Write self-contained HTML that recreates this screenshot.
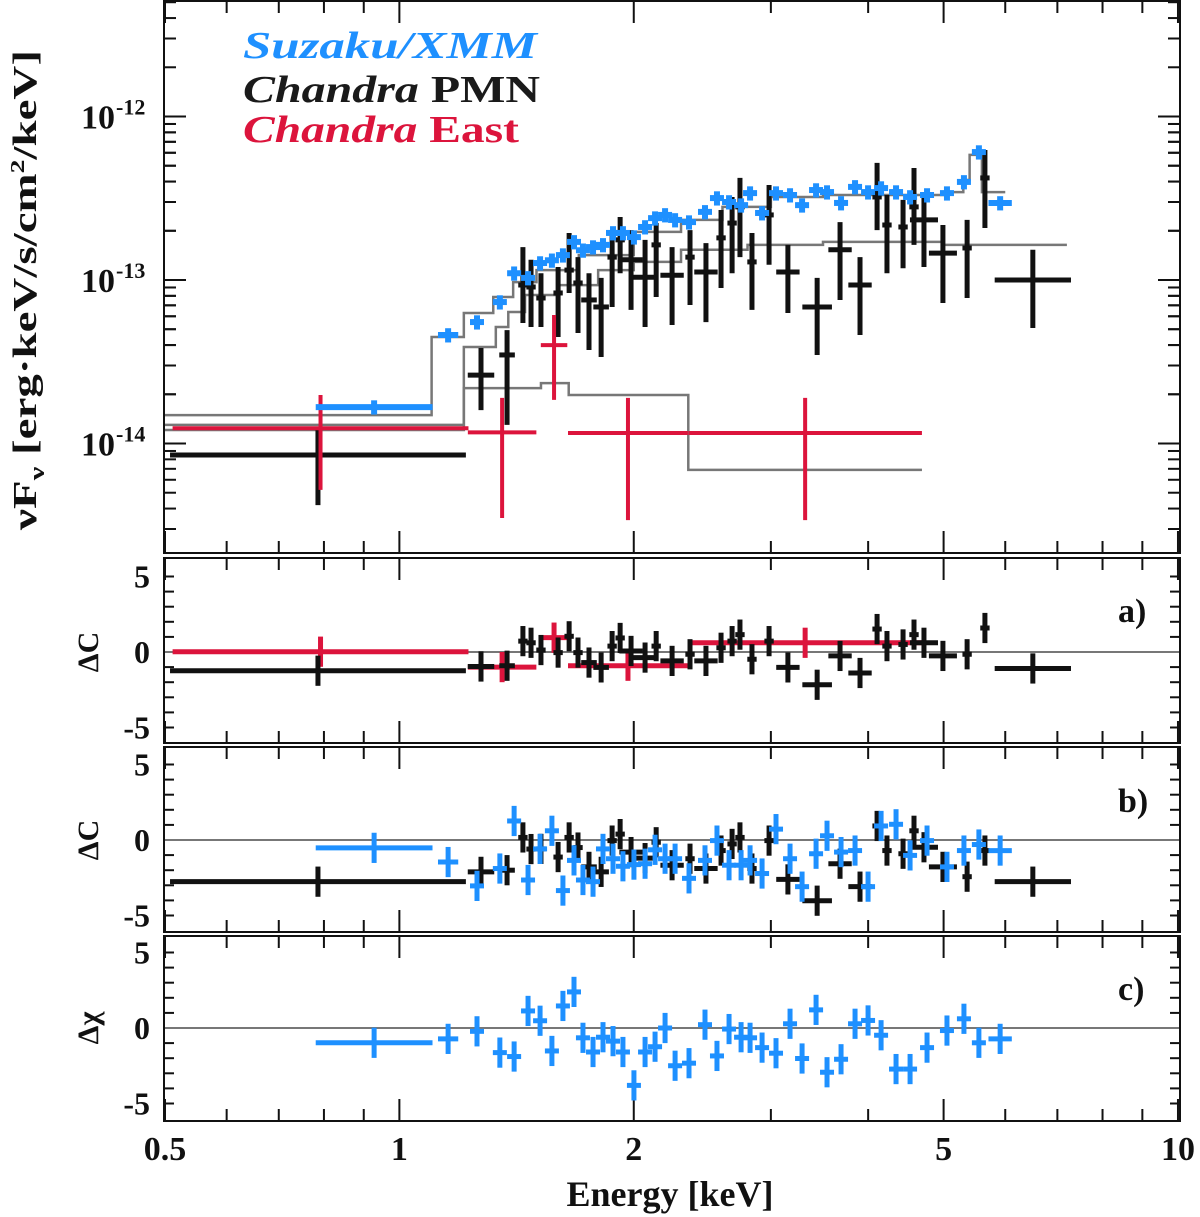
<!DOCTYPE html>
<html><head><meta charset="utf-8"><style>
html,body{margin:0;padding:0;background:#fff;}
svg{display:block;font-family:"Liberation Serif",serif;}
</style></head><body>
<svg id="chart" width="1200" height="1217" viewBox="0 0 1200 1217" xmlns="http://www.w3.org/2000/svg">
<rect x="0" y="0" width="1200" height="1217" fill="#fff"/>
<g id="plots"></g>
<g id="frames" fill="none" stroke="#111" stroke-width="2">
<rect x="164" y="1" width="1016" height="552"/>
<rect x="164" y="558" width="1016" height="185"/>
<rect x="164" y="747" width="1016" height="185"/>
<rect x="164" y="936" width="1016" height="185"/>
</g>
<g font-weight="bold" fill="#111">
<text x="243" y="58" font-style="italic" font-size="38" fill="#1e90ff" textLength="294" lengthAdjust="spacingAndGlyphs">Suzaku/XMM</text>
<text x="243" y="102" font-size="38" fill="#1a1a1a" textLength="297" lengthAdjust="spacingAndGlyphs"><tspan font-style="italic">Chandra</tspan> PMN</text>
<text x="243" y="142" font-size="38" fill="#dc143c" textLength="276" lengthAdjust="spacingAndGlyphs"><tspan font-style="italic">Chandra</tspan> East</text>
<text transform="translate(36,290) rotate(-90)" text-anchor="middle" font-size="34" textLength="480" lengthAdjust="spacingAndGlyphs">νF<tspan font-size="22" dy="8">ν</tspan><tspan dy="-8"> [erg·keV/s/cm</tspan><tspan font-size="20" dy="-12">2</tspan><tspan dy="12">/keV]</tspan></text>
<text transform="translate(98,652) rotate(-90)" text-anchor="middle" font-size="30">ΔC</text>
<text transform="translate(98,840) rotate(-90)" text-anchor="middle" font-size="30">ΔC</text>
<text transform="translate(98,1028) rotate(-90)" text-anchor="middle" font-size="30">Δχ</text>
<text x="1118" y="622" font-size="34">a)</text>
<text x="1118" y="812" font-size="34">b)</text>
<text x="1118" y="1000" font-size="34">c)</text>
<text x="670" y="1206" text-anchor="middle" font-size="36">Energy [keV]</text>
</g>
</svg>
<script>
// ---------- data ----------
const xTickVals = [0.5, 1, 2, 5, 10];
const xTickLabels = ["0.5", "1", "2", "5", "10"];
const xMinor = [0.6, 0.7, 0.8, 0.9, 3, 4, 6, 7, 8, 9];
const yDecades = [-12, -13, -14];
const resTicks = [5, 0, -5];

// Suzaku/XMM (flux in 1e-13 erg keV/s/cm2/keV)
const blueE = [0.928,1.155,1.258,1.346,1.404,1.463,1.516,1.570,1.622,1.676,1.721,1.773,1.826,1.881,1.937,2.001,2.068,2.130,2.194,2.260,2.355,2.469,2.558,2.651,2.747,2.821,2.923,3.046,3.175,3.290,3.429,3.542,3.692,3.848,3.999,4.156,4.344,4.528,4.761,5.05,5.31,5.55,5.91];
const blueF = [0.167,0.461,0.553,0.733,1.10,1.03,1.27,1.32,1.42,1.71,1.52,1.59,1.64,1.94,1.94,1.83,2.11,2.39,2.50,2.33,2.26,2.61,3.17,3.00,2.87,3.40,2.57,3.40,3.31,2.87,3.55,3.45,2.96,3.71,3.45,3.65,3.45,3.22,3.31,3.40,3.98,6.06,2.96];
const blueResB = [-0.52,-1.46,-3.04,-1.89,1.26,-2.65,-0.59,0.61,-3.35,-1.35,-2.65,-2.76,-0.59,-1.24,-1.74,-1.63,-1.57,-0.65,-1.24,-1.24,-2.54,-1.35,-0.04,-1.67,-1.67,-1.35,-2.22,0.72,-1.24,-3.09,-0.91,0.28,-0.80,-0.70,-3.09,0.93,1.04,-1.02,-0.04,-1.78,-0.70,-0.30,-0.70];
const blueResC = [-0.98,-0.72,-0.22,-1.63,-1.89,1.13,0.48,-1.52,1.46,2.39,-0.65,-1.59,-0.61,-0.87,-1.59,-3.80,-1.59,-1.24,0,-2.50,-2.33,0.22,-1.85,-0.07,-0.61,-0.65,-1.30,-1.67,0.28,-2.02,1.20,-2.93,-2.07,0.28,0.5,-0.48,-2.72,-2.72,-1.30,-0.17,0.61,-0.98,-0.72];
const blueXerr = [0.075,0.013,0.009,0.009,0.009,0.009,0.009,0.009,0.009,0.009,0.009,0.009,0.009,0.009,0.009,0.009,0.009,0.009,0.009,0.009,0.009,0.009,0.009,0.009,0.009,0.009,0.009,0.009,0.009,0.009,0.009,0.009,0.009,0.009,0.009,0.009,0.009,0.009,0.009,0.009,0.009,0.009,0.015];

// Chandra PMN
const blackE = [0.786,1.273,1.375,1.441,1.476,1.520,1.599,1.652,1.696,1.752,1.816,1.876,1.921,1.984,2.068,2.137,2.240,2.362,2.476,2.589,2.675,2.738,2.837,2.984,3.155,3.440,3.681,3.905,4.107,4.229,4.435,4.581,4.718,4.99,5.36,5.65,6.51];
const blackF = [0.085,0.262,0.348,0.932,0.906,0.776,0.833,1.15,0.959,0.755,0.684,1.38,1.76,1.33,1.04,1.64,1.07,1.38,1.12,1.81,2.23,2.80,1.29,2.50,1.12,0.684,1.53,0.932,3.22,2.17,2.11,2.80,2.33,1.46,1.57,4.21,1.0];
const blackHi = [0.121,0.384,0.494,1.59,1.33,1.10,1.20,1.94,1.38,1.10,1.03,2.02,2.43,2.02,1.76,2.23,1.59,2.02,1.68,2.68,3.22,4.21,1.94,3.81,1.64,1.03,2.26,1.38,5.20,3.31,3.09,4.84,3.45,2.17,2.33,6.24,1.53];
const blackLo = [0.042,0.160,0.130,0.546,0.516,0.516,0.448,0.833,0.474,0.373,0.338,0.684,1.10,0.656,0.516,0.787,0.531,0.703,0.553,0.894,1.10,1.38,0.656,1.24,0.628,0.348,0.755,0.461,2.02,1.10,1.18,1.64,1.20,0.723,0.776,2.08,0.509];
const blackXerr = [0.19,0.017,0.010,0.006,0.006,0.006,0.006,0.006,0.006,0.010,0.010,0.006,0.006,0.015,0.015,0.006,0.015,0.006,0.015,0.006,0.006,0.006,0.006,0.006,0.015,0.019,0.015,0.015,0.006,0.006,0.006,0.006,0.018,0.018,0.006,0.006,0.049];
const blackResA = [-1.24,-0.96,-0.91,0.72,0.61,0.13,-0.04,1.04,-0.04,-0.70,-1.02,0.39,0.93,0.07,-0.37,0.39,-0.59,-0.15,-0.59,0.28,0.72,1.15,-0.48,0.72,-1.02,-2.17,-0.26,-1.39,1.52,0.39,0.5,1.15,0.61,-0.26,-0.15,1.59,-1.09];
const blackResB = [-2.76,-2.11,-2.0,0.17,-0.6,-0.59,-1.13,0.17,-0.5,-1.78,-2.11,-0.04,0.39,-0.8,-1.2,-0.15,-1.67,-1.24,-1.89,-0.70,-0.26,0.17,-1.89,-0.04,-2.61,-4.02,-1.57,-3.09,0.93,-0.70,-0.91,0.61,-0.48,-1.78,-2.43,-0.70,-2.76];

// Chandra East
const redE = [0.792,1.355,1.580,1.966,3.32];
const redF = [0.124,0.117,0.400,0.116,0.116];
const redHi = [0.198,0.190,0.611,0.190,0.190];
const redLo = [0.052,0.035,0.185,0.034,0.034];
const redXerr = [0.19,0.044,0.017,0.077,0.15];
const redResA = [0.02,-1.0,0.95,-0.91,0.61];

// model step curves
const modelSuzEdges = [0.5,1.1,1.21,1.32,1.4,1.5,1.7,2.0,2.3,2.6,3.0,3.5,4.0,4.5,5.0,5.3,5.4,5.6,6.0];
const modelSuzVals = [0.149,0.448,0.628,0.787,0.97,1.15,1.42,1.97,2.33,2.80,3.22,3.31,3.31,3.31,3.45,4.09,5.82,3.45];
const modelPmnEdges = [0.5,1.21,1.33,1.38,1.45,1.6,1.8,2.0,2.3,2.8,3.5,5.0,7.2];
const modelPmnVals = [0.130,0.389,0.516,0.637,0.81,0.93,1.15,1.29,1.53,1.64,1.71,1.64];
const modelEastEdges = [0.5,1.21,1.52,1.65,2.35,4.69];
const modelEastVals = [0.121,0.218,0.234,0.198,0.069];

const blueRelErr = 0.10;
const resErr = 1.0;

// ---------- axes ----------
const NS = "http://www.w3.org/2000/svg";
const X0 = 165, XDEC = 778.6;
const X = e => X0 + XDEC * Math.log10(e / 0.5);
const YT = f => 280 - 163.5 * Math.log10(f);
const panels = {a: {zero: 652}, b: {zero: 840}, c: {zero: 1028}};
const YR = (p, v) => panels[p].zero - 15.1 * v;
const layer = document.getElementById('plots');
const BLUE = "#1e90ff", BLACK = "#111", RED = "#dc143c", GRAY = "#777";

function mk(tag, attrs) {
  const e = document.createElementNS(NS, tag);
  for (const k in attrs) e.setAttribute(k, attrs[k]);
  layer.appendChild(e);
  return e;
}
function line(x1, y1, x2, y2, col, w) {
  return mk('line', {x1: x1, y1: y1, x2: x2, y2: y2, stroke: col, 'stroke-width': w});
}
function text(x, y, s, size, anchor) {
  const t = mk('text', {x: x, y: y, 'font-size': size, 'font-weight': 'bold', fill: '#111', 'text-anchor': anchor});
  t.textContent = s;
  return t;
}

const defs = mk('defs', {});
const cp = document.createElementNS(NS, 'clipPath');
cp.setAttribute('id', 'clipTop');
const cr = document.createElementNS(NS, 'rect');
cr.setAttribute('x', 165); cr.setAttribute('y', 2); cr.setAttribute('width', 1014); cr.setAttribute('height', 550);
cp.appendChild(cr); defs.appendChild(cp);

const frameTB = [[1, 553], [558, 743], [747, 932], [936, 1121]];
frameTB.forEach(([t, b]) => {
  xTickVals.forEach(v => {
    const a = line(X(v), t, X(v), t + 22, BLACK, 2);
    
    
    const c = line(X(v), b, X(v), b - 22, BLACK, 2);
    
    
  });
  xMinor.forEach(v => {
    const a = line(X(v), t, X(v), t + 12, BLACK, 2);
    
    
    const c = line(X(v), b, X(v), b - 12, BLACK, 2);
    
    
  });
});
xTickVals.forEach((v, i) => {
  const t = text(X(v), 1160, xTickLabels[i], 34, 'middle');
  
  
});

yDecades.forEach(d => {
  for (let k = 0; k < 2; k++) {
    for (let m = 1; m <= 9; m++) {
      const f = m * Math.pow(10, d + 13 - k);
      const y = YT(f);
      if (y < 2 || y > 552) continue;
      const len = m === 1 ? 22 : 12;
      const a = line(164, y, 164 + len, y, BLACK, 2);
      
      
      const b = line(1180, y, 1180 - len, y, BLACK, 2);
      
      
    }
  }
  const y = YT(Math.pow(10, d + 13));
  const t = mk('text', {x: 115, y: y + 12, 'font-size': 34, 'font-weight': 'bold', fill: '#111', 'text-anchor': 'end'});
  t.textContent = '10';
  
  
  const s = mk('text', {x: 116, y: y - 2, 'font-size': 22, 'font-weight': 'bold', fill: '#111'});
  s.textContent = '-' + (-d);
  
  
});

['a', 'b', 'c'].forEach(p => {
  for (let v = -5; v <= 5; v++) {
    const y = YR(p, v);
    const a = line(164, y, 174, y, BLACK, 2);
    
    
    const b = line(1180, y, 1170, y, BLACK, 2);
    
    
  }
  resTicks.forEach(v => {
    const t = text(150, YR(p, v) + 11, String(v), 32, 'end');
    
    
  });
  const z = line(165, YR(p, 0), 1179, YR(p, 0), GRAY, 2);
  
  
});

function stepPath(edges, vals) {
  let d = '';
  for (let i = 0; i < vals.length; i++) {
    const y = YT(vals[i]);
    d += (i === 0 ? 'M' : 'L') + X(edges[i]) + ' ' + y + ' L' + X(edges[i + 1]) + ' ' + y + ' ';
  }
  return d;
}
const mA = mk('path', {d: stepPath(modelSuzEdges, modelSuzVals), fill: 'none', stroke: GRAY, 'stroke-width': 2.5, 'clip-path': 'url(#clipTop)'});


const mB = mk('path', {d: stepPath(modelPmnEdges, modelPmnVals), fill: 'none', stroke: GRAY, 'stroke-width': 2.5, 'clip-path': 'url(#clipTop)'});


const mC = mk('path', {d: stepPath(modelEastEdges, modelEastVals), fill: 'none', stroke: GRAY, 'stroke-width': 2.5, 'clip-path': 'url(#clipTop)'});



function cross(e, xerr, y, yhi, ylo, col, w, name) {
  const g = document.createElementNS(NS, 'g');
  layer.appendChild(g);
  
  
  const h = document.createElementNS(NS, 'line');
  h.setAttribute('x1', X(e / Math.pow(10, xerr))); h.setAttribute('x2', X(e * Math.pow(10, xerr)));
  h.setAttribute('y1', y); h.setAttribute('y2', y);
  h.setAttribute('stroke', col); h.setAttribute('stroke-width', w);
  g.appendChild(h);
  const v = document.createElementNS(NS, 'line');
  v.setAttribute('x1', X(e)); v.setAttribute('x2', X(e));
  v.setAttribute('y1', yhi); v.setAttribute('y2', ylo);
  v.setAttribute('stroke', col); v.setAttribute('stroke-width', w);
  g.appendChild(v);
}

blackE.forEach((e, i) => cross(e, blackXerr[i], YT(blackF[i]), YT(blackHi[i]), YT(blackLo[i]), BLACK, 5, 'pmn-flux-point'));
redE.forEach((e, i) => cross(e, redXerr[i], YT(redF[i]), YT(redHi[i]), YT(redLo[i]), RED, 4, 'east-flux-point'));
blueE.forEach((e, i) => cross(e, blueXerr[i], YT(blueF[i]), YT(blueF[i] * (1 + blueRelErr)), YT(blueF[i] * (1 - blueRelErr)), BLUE, 6, 'suzaku-flux-point'));

redE.forEach((e, i) => cross(e, redXerr[i], YR('a', redResA[i]), YR('a', redResA[i] + resErr), YR('a', redResA[i] - resErr), RED, 5, 'east-residual-a'));
blackE.forEach((e, i) => cross(e, blackXerr[i], YR('a', blackResA[i]), YR('a', blackResA[i] + resErr), YR('a', blackResA[i] - resErr), BLACK, 5, 'pmn-residual-a'));
blackE.forEach((e, i) => cross(e, blackXerr[i], YR('b', blackResB[i]), YR('b', blackResB[i] + resErr), YR('b', blackResB[i] - resErr), BLACK, 5, 'pmn-residual-b'));
blueE.forEach((e, i) => cross(e, blueXerr[i], YR('b', blueResB[i]), YR('b', blueResB[i] + resErr), YR('b', blueResB[i] - resErr), BLUE, 5, 'suzaku-residual-b'));
blueE.forEach((e, i) => cross(e, blueXerr[i], YR('c', blueResC[i]), YR('c', blueResC[i] + resErr), YR('c', blueResC[i] - resErr), BLUE, 5, 'suzaku-residual-c'));
</script>
</body></html>
